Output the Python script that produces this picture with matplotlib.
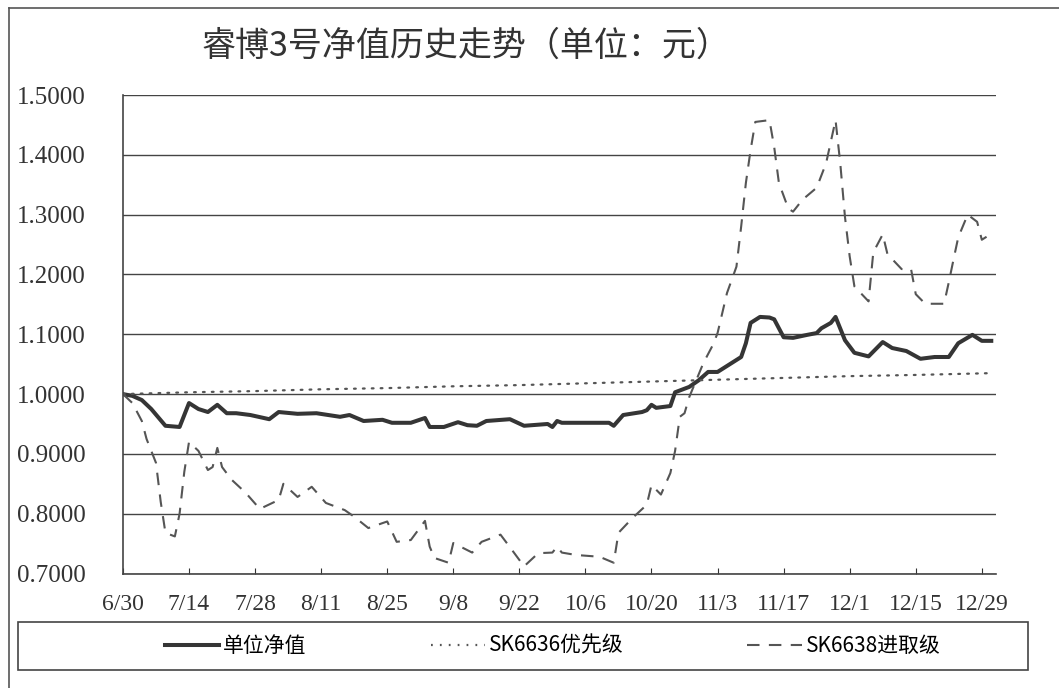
import matplotlib
matplotlib.use("Agg")
import matplotlib.pyplot as plt
import pandas as pd
from matplotlib.lines import Line2D

plt.rcParams['font.family'] = ['Noto Sans CJK SC', 'DejaVu Sans']

# 单位净值
nav_dates = ["6/30", "7/2", "7/4", "7/6", "7/9", "7/12", "7/13", "7/14", "7/16", "7/18",
             "7/19", "7/20", "7/22", "7/24", "7/27", "7/31", "8/2", "8/6", "8/10", "8/15",
             "8/17", "8/20", "8/24", "8/26", "8/30", "9/2", "9/3", "9/6", "9/9", "9/11",
             "9/13", "9/15", "9/20", "9/23", "9/28", "9/29", "9/30", "10/1", "10/11", "10/12",
             "10/14", "10/18", "10/19", "10/20", "10/21", "10/24", "10/25", "10/28", "10/30", "11/1",
             "11/3", "11/6", "11/8", "11/9", "11/10", "11/12", "11/14", "11/15", "11/17", "11/19",
             "11/22", "11/24", "11/25", "11/27", "11/28", "11/30", "12/2", "12/5", "12/8", "12/10",
             "12/13", "12/16", "12/19", "12/22", "12/24", "12/27", "12/29", "12/31"]
nav_values = [1.000, 0.997, 0.990, 0.975, 0.947, 0.945, 0.965, 0.985, 0.975, 0.970,
              0.976, 0.982, 0.968, 0.968, 0.965, 0.958, 0.970, 0.967, 0.968, 0.962,
              0.965, 0.955, 0.957, 0.952, 0.952, 0.960, 0.945, 0.945, 0.953, 0.948,
              0.947, 0.955, 0.958, 0.947, 0.950, 0.945, 0.955, 0.952, 0.952, 0.947,
              0.965, 0.970, 0.973, 0.982, 0.977, 0.980, 1.003, 1.012, 1.023, 1.037,
              1.037, 1.052, 1.062, 1.085, 1.119, 1.129, 1.128, 1.125, 1.095, 1.094,
              1.099, 1.102, 1.110, 1.119, 1.129, 1.090, 1.069, 1.063, 1.087, 1.077,
              1.072, 1.059, 1.062, 1.062, 1.085, 1.099, 1.089, 1.089]

# SK6636优先级
sen_dates = ["6/30", "7/14", "7/28", "8/11", "8/25", "9/8", "9/22", "10/6", "10/20",
             "11/3", "11/17", "12/1", "12/15", "12/31"]
sen_values = [1.000, 1.003, 1.005, 1.008, 1.010, 1.013, 1.015, 1.018, 1.021,
              1.024, 1.027, 1.030, 1.032, 1.035]

# SK6638进取级
sub_dates = ["6/30", "7/2", "7/4", "7/5", "7/7", "7/8", "7/9", "7/11", "7/12", "7/13",
             "7/14", "7/16", "7/18", "7/19", "7/20", "7/21", "7/23", "7/26", "7/29", "8/2",
             "8/3", "8/6", "8/9", "8/12", "8/16", "8/18", "8/21", "8/25", "8/27", "8/30",
             "9/2", "9/3", "9/4", "9/7", "9/8", "9/12", "9/14", "9/18", "9/20", "9/23",
             "9/26", "9/29", "9/30", "10/1", "10/4", "10/9", "10/12", "10/13", "10/16", "10/19",
             "10/20", "10/22", "10/24", "10/25", "10/26", "10/27", "10/28", "10/31", "11/2", "11/3",
             "11/5", "11/7", "11/8", "11/9", "11/10", "11/11", "11/14", "11/15", "11/16", "11/18",
             "11/19", "11/21", "11/24", "11/26", "11/28", "11/29", "11/30", "12/1", "12/2", "12/5",
             "12/6", "12/8", "12/9", "12/12", "12/14", "12/15", "12/17", "12/21", "12/22", "12/23",
             "12/24", "12/26", "12/28", "12/29", "12/30"]
sub_values = [1.000, 0.985, 0.955, 0.925, 0.885, 0.820, 0.768, 0.762, 0.800, 0.870,
              0.920, 0.905, 0.873, 0.878, 0.910, 0.878, 0.857, 0.835, 0.808, 0.823,
              0.850, 0.828, 0.845, 0.818, 0.806, 0.795, 0.776, 0.787, 0.753, 0.756,
              0.788, 0.745, 0.726, 0.718, 0.751, 0.735, 0.753, 0.765, 0.744, 0.712,
              0.734, 0.735, 0.745, 0.735, 0.731, 0.728, 0.718, 0.768, 0.793, 0.815,
              0.848, 0.832, 0.868, 0.905, 0.962, 0.968, 0.995, 1.052, 1.082, 1.102,
              1.169, 1.213, 1.280, 1.353, 1.408, 1.455, 1.458, 1.413, 1.353, 1.310,
              1.305, 1.325, 1.345, 1.386, 1.458, 1.386, 1.296, 1.230, 1.180, 1.155,
              1.237, 1.267, 1.234, 1.209, 1.209, 1.167, 1.151, 1.151, 1.187, 1.225,
              1.262, 1.300, 1.288, 1.258, 1.263]


def to_dates(items):
    return pd.to_datetime(["2014/" + s for s in items], format="%Y/%m/%d")


fig = plt.figure(figsize=(10.59, 6.88), dpi=100)
ax = fig.add_axes([0.1161, 0.1664, 0.8244, 0.6955])

ax.plot(to_dates(nav_dates), nav_values, color='#353535', lw=2.9, solid_joinstyle='round')
ax.plot(to_dates(sen_dates), sen_values, color='#555555', lw=1.6, dashes=(0.8, 3.2),
        dash_capstyle='round')
ax.plot(to_dates(sub_dates), sub_values, color='#555555', lw=1.5, dashes=(6, 4.5))

start = pd.Timestamp("2014-06-30")
ticks = pd.date_range(start, periods=14, freq="14D")
ax.set_xticks(ticks)
ax.set_xticklabels([f"{d.month}/{d.day}" for d in ticks], family='Liberation Serif', fontsize=17)
ax.set_xlim(start, start + pd.Timedelta(days=185))

ax.set_ylim(0.7, 1.5)
ax.set_yticks([0.7 + 0.1 * i for i in range(9)])
ax.set_yticklabels([f"{0.7 + 0.1 * i:.4f}" for i in range(9)], family='Liberation Serif',
                   fontsize=18)
ax.tick_params(axis='y', length=0, pad=27, colors='#333333')
ax.tick_params(axis='x', direction='in', length=4, pad=15, colors='#333333')
ax.yaxis.grid(True, color='#444444', lw=1.0)
ax.set_axisbelow(True)
for side in ('top', 'right'):
    ax.spines[side].set_visible(False)
for side in ('left', 'bottom'):
    ax.spines[side].set_color('#444444')
    ax.spines[side].set_linewidth(1.2)

fig.text(0.44, 0.933, "睿博3号净值历史走势（单位：元）", ha='center', va='center',
         fontsize=24.5, color='#333333')

# outer frame
fig.add_artist(Line2D([0.0085, 0.0085], [0.0, 0.988], transform=fig.transFigure,
                      color='#555555', lw=1.2))
fig.add_artist(Line2D([0.0085, 1.0], [0.988, 0.988], transform=fig.transFigure,
                      color='#555555', lw=1.2))

handles = [Line2D([], [], color='#353535', lw=2.9),
           Line2D([], [], color='#555555', lw=1.6, dashes=(0.8, 3.2)),
           Line2D([], [], color='#555555', lw=1.5, dashes=(6, 4.5))]
labels = ["单位净值", "SK6636优先级", "SK6638进取级"]
leg = fig.legend(handles, labels, loc='center', ncol=3, mode='expand',
                 bbox_to_anchor=(0.138, 0.026, 0.768, 0.07), fontsize=15,
                 handlelength=2.6, handletextpad=0.2, frameon=False)
fig.add_artist(plt.Rectangle((0.017, 0.026), 0.954, 0.070, transform=fig.transFigure,
                             fill=False, edgecolor='#444444', lw=1.2))

fig.savefig("out.png", dpi=100)
